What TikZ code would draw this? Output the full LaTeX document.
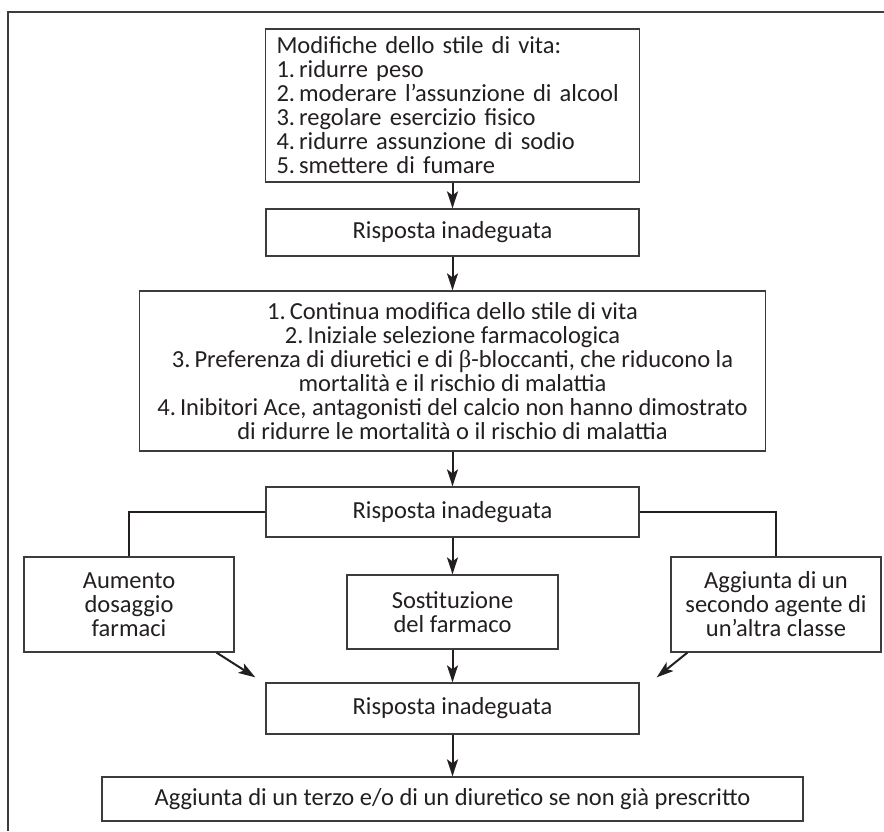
\documentclass[tikz,border=0pt]{standalone}
\usepackage{fontspec}
\setmainfont{Carlito}
\newfontfamily\grfont{Liberation Serif}
\usetikzlibrary{arrows.meta}
\definecolor{bordo}{HTML}{3C3C3C}
\definecolor{testo}{HTML}{231F20}

\begin{document}
\begin{tikzpicture}
[x=1pt,y=-1pt,
 every node/.style={draw=bordo,line width=1.3pt,inner sep=0pt,text=testo,
   font=\fontsize{24.5}{24}\selectfont,align=center},
 risposta/.style={minimum width=373pt,minimum height=49pt},
 laterale/.style={minimum width=210pt,minimum height=95pt},
 freccia/.style={draw=testo,line width=2pt,-{Stealth[length=17pt,width=11pt,inset=4pt]}},
 linea/.style={draw=testo,line width=2pt}]
  \useasboundingbox (0,0) rectangle (884,831);
  \draw[bordo,line width=1.5pt] (884,12) -- (8,12) -- (8,831);
  \node[text width=352pt,inner xsep=11pt,minimum height=153pt,align=left] (stile) at (452.5,105.5)
    {Modifiche dello stile di vita:\\1.\,ridurre peso\\2.\,moderare l’assunzione di alcool\\
     3.\,regolare esercizio fisico\\4.\,ridurre assunzione di sodio\\5.\,smettere di fumare};
  \node[risposta,minimum height=47pt] (risp1) at (452.5,232.5) {Risposta inadeguata};
  \node[minimum width=626pt,minimum height=160pt] (terapia) at (452.5,371)
    {1.\,Continua modifica dello stile di vita\\2.\,Iniziale selezione farmacologica\\
     3.\,Preferenza di diuretici e di {\grfont β}-bloccanti, che riducono la\\
     mortalità e il rischio di malattia\\
     4.\,Inibitori Ace, antagonisti del calcio non hanno dimostrato\\
     di ridurre le mortalità o il rischio di malattia};
  \node[risposta,minimum height=50pt] (risp2) at (452.5,512) {Risposta inadeguata};
  \node[laterale] (dosaggio) at (129,604.5) {Aumento\\dosaggio\\farmaci};
  \node[minimum width=211pt,minimum height=74pt] (sostituz) at (452.5,612) {Sostituzione\\del farmaco};
  \node[laterale] (agente) at (776,604.5) {Aggiunta di un\\secondo agente di\\un’altra classe};
  \node[risposta,minimum height=51pt] (risp3) at (452.5,708.5) {Risposta inadeguata};
  \node[minimum width=701pt,minimum height=44pt] (terzo) at (452.5,799)
    {Aggiunta di un terzo e/o di un diuretico se non già prescritto};

  \coordinate (pd) at ([xshift=-10pt,yshift=5pt]risp3.north west);
  \coordinate (pa) at ([xshift=17pt,yshift=5pt]risp3.north east);

  \foreach \from/\to in {stile/risp1, risp1/terapia, terapia/risp2, risp2/sostituz, sostituz/risp3, risp3/terzo}
    \draw[freccia] (\from) -- (\to);
  \draw[linea] (risp2.west) -| (dosaggio.north);
  \draw[linea] (risp2.east) -| (agente.north);
  \draw[freccia] ([xshift=-18pt]dosaggio.south east) -- (pd);
  \draw[freccia] ([xshift=17pt]agente.south west) -- (pa);

\end{tikzpicture}
\end{document}
